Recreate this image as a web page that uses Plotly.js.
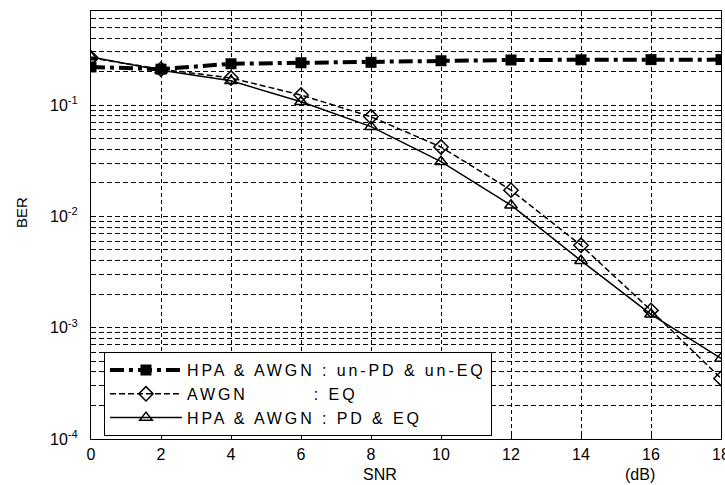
<!DOCTYPE html>
<html>
<head>
<meta charset="utf-8">
<script src="https://cdn.plot.ly/plotly-3.0.1.min.js"></script>
<style>
html, body { margin: 0; padding: 0; background: #fff; }
#chart { width: 725px; height: 485px; }
.legendtext { letter-spacing: 2.9px; }
</style>
</head>
<body>
<div id="chart"></div>
<script>
// SNR (dB)
const snr = [0, 2, 4, 6, 8, 10, 12, 14, 16, 18];
// BER values
const berUnPdUnEq = [0.22, 0.21, 0.235, 0.24, 0.242, 0.25, 0.254, 0.255, 0.256, 0.256];
const berAwgnEq   = [0.265, 0.21, 0.175, 0.123, 0.0785, 0.042, 0.0172, 0.0055, 0.00143, 0.00035];
const berPdEq     = [0.27, 0.205, 0.165, 0.107, 0.064, 0.031, 0.0126, 0.0040, 0.00132, 0.00053];
const seriesNames = [
  'HPA & AWGN : un-PD & un-EQ',
  'AWGN         : EQ',
  'HPA & AWGN : PD & EQ'
];
const xTickVals = [0, 2, 4, 6, 8, 10, 12, 14, 16, 18];
const yTickVals = [1e-4, 1e-3, 1e-2, 1e-1];
const yTickText = ['10<sup>-4</sup>', '10<sup>-3</sup>', '10<sup>-2</sup>', '10<sup>-1</sup>'];

const FONT = 'Arial, "Liberation Sans", sans-serif';

const traces = [
  {
    x: snr, y: berUnPdUnEq, name: seriesNames[0], type: 'scatter', mode: 'lines+markers',
    line: { color: 'black', width: 4, dash: '14px,5px,4px,5px' },
    marker: { symbol: 'square', size: 11, color: 'black' }
  },
  {
    x: snr, y: berAwgnEq, name: seriesNames[1], type: 'scatter', mode: 'lines+markers',
    line: { color: 'black', width: 1.5, dash: '6px,3px' },
    marker: { symbol: 'diamond-open', size: 11, color: 'black', line: { width: 1.5, color: 'black' } }
  },
  {
    x: snr, y: berPdEq, name: seriesNames[2], type: 'scatter', mode: 'lines+markers',
    line: { color: 'black', width: 1.5 },
    marker: { symbol: 'triangle-up-open', size: 11, color: 'black', line: { width: 1.5, color: 'black' } }
  }
];

const layout = {
  width: 725, height: 485,
  margin: { l: 91, r: 4, t: 11, b: 46, pad: 0 },
  paper_bgcolor: 'white', plot_bgcolor: 'white',
  font: { family: FONT, size: 16, color: 'black' },
  showlegend: true,
  xaxis: {
    range: [0, 18], tickvals: xTickVals, ticktext: xTickVals.map(String),
    showline: true, mirror: 'ticks', linecolor: 'black', linewidth: 1,
    ticks: 'inside', ticklen: 5, tickcolor: 'black',
    showgrid: true, gridcolor: 'black', gridwidth: 1, griddash: '4px,3px',
    zeroline: false, ticklabelstandoff: 1, ticklabeloverflow: 'allow',
    tickfont: { family: FONT, size: 16, color: 'black' }
  },
  yaxis: {
    type: 'log', range: [-4, -0.155], tickvals: yTickVals, ticktext: yTickText,
    showline: true, mirror: 'ticks', linecolor: 'black', linewidth: 1,
    ticks: 'inside', ticklen: 5, tickcolor: 'black',
    showgrid: true, gridcolor: 'black', gridwidth: 1, griddash: '5px,3px',
    zeroline: false, ticklabelstandoff: 9,
    tickfont: { family: FONT, size: 16, color: 'black' },
    minor: { dtick: 'D1', showgrid: true, gridcolor: 'black', gridwidth: 1, griddash: '5px,3px',
             ticks: 'inside', ticklen: 3, tickcolor: 'black' }
  },
  legend: {
    x: 0.0206, y: 0.203, xanchor: 'left', yanchor: 'top',
    bgcolor: 'white', bordercolor: 'black', borderwidth: 1,
    font: { family: FONT, size: 16, color: 'black' },
    itemwidth: 72, tracegroupgap: 0
  },
  annotations: [
    { text: 'SNR', xref: 'paper', yref: 'paper', x: (380 - 91) / 630, y: -(475 - 439) / 428,
      xanchor: 'center', yanchor: 'middle', showarrow: false, font: { family: FONT, size: 16 } },
    { text: '(dB)', xref: 'paper', yref: 'paper', x: (640 - 91) / 630, y: -(475 - 439) / 428,
      xanchor: 'center', yanchor: 'middle', showarrow: false, font: { family: FONT, size: 16 } },
    { text: 'BER', xref: 'paper', yref: 'paper', x: -(91 - 21) / 630, y: (439 - 213) / 428,
      xanchor: 'center', yanchor: 'middle', textangle: -90, showarrow: false, font: { family: FONT, size: 15 } }
  ]
};

Plotly.newPlot('chart', traces, layout, { displayModeBar: false, staticPlot: true });
</script>
</body>
</html>
